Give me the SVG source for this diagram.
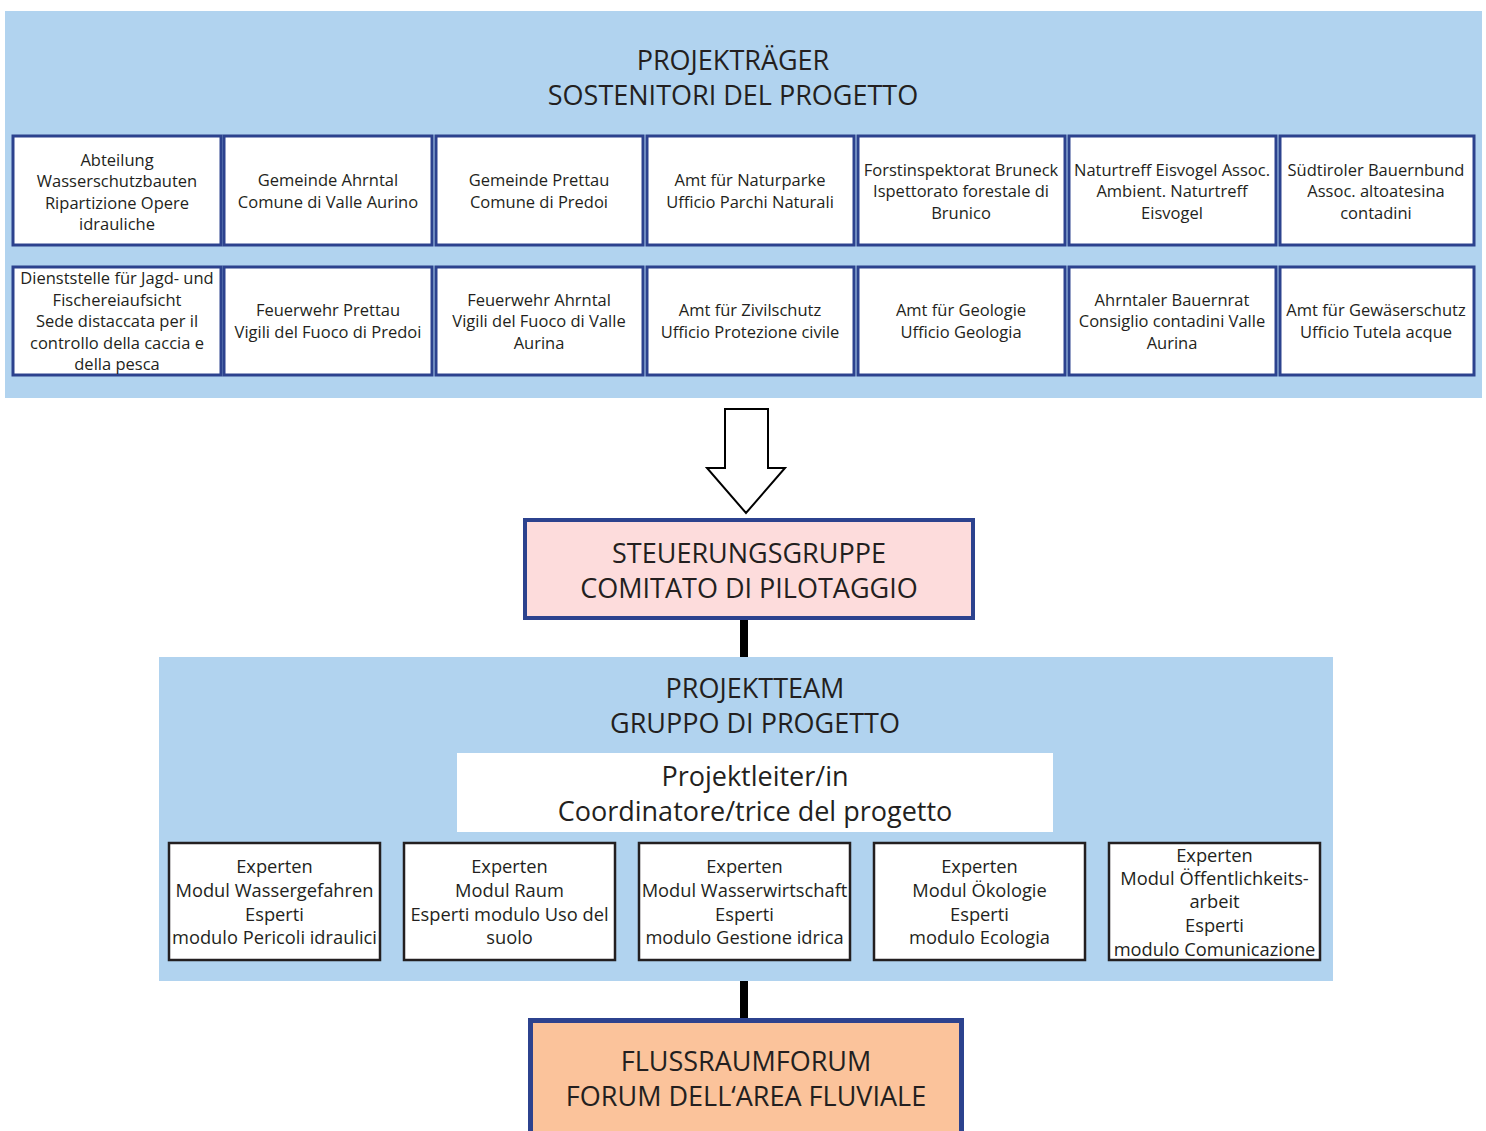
<svg xmlns="http://www.w3.org/2000/svg" width="1486" height="1131" viewBox="0 0 1486 1131">
<style>
text{font-family:"Open Sans","Noto Sans","Liberation Sans",sans-serif;fill:#231f20;text-anchor:middle}
.panel{fill:#b1d3ef}
.org{fill:#fff;stroke:#2c428e;stroke-width:3}
.org-t{font-size:16.5px}
.big{font-size:27px}
.exp{fill:#fff;stroke:#231f20;stroke-width:2.5}
.exp-t{font-size:18.3px}
.conn{fill:#000}
</style>
<rect width="1486" height="1131" fill="#fff"/>

<g id="sostenitori">
<rect class="panel" x="5" y="11" width="1477" height="387"/>
<text class="big" x="733" y="70">PROJEKTRÄGER</text>
<text class="big" x="733" y="105">SOSTENITORI DEL PROGETTO</text>
</g>

<g id="org-1"><rect class="org" x="13" y="136" width="208" height="109"/>
<text class="org-t" x="117"><tspan x="117" y="166">Abteilung</tspan><tspan x="117" y="187">Wasserschutzbauten</tspan><tspan x="117" y="209">Ripartizione Opere</tspan><tspan x="117" y="230">idrauliche</tspan></text></g>
<g id="org-2"><rect class="org" x="224" y="136" width="208" height="109"/>
<text class="org-t"><tspan x="328" y="186">Gemeinde Ahrntal</tspan><tspan x="328" y="208">Comune di Valle Aurino</tspan></text></g>
<g id="org-3"><rect class="org" x="436" y="136" width="207" height="109"/>
<text class="org-t"><tspan x="539" y="186">Gemeinde Prettau</tspan><tspan x="539" y="208">Comune di Predoi</tspan></text></g>
<g id="org-4"><rect class="org" x="647" y="136" width="207" height="109"/>
<text class="org-t"><tspan x="750" y="186">Amt für Naturparke</tspan><tspan x="750" y="208">Ufficio Parchi Naturali</tspan></text></g>
<g id="org-5"><rect class="org" x="858" y="136" width="207" height="109"/>
<text class="org-t"><tspan x="961" y="176">Forstinspektorat Bruneck</tspan><tspan x="961" y="197">Ispettorato forestale di</tspan><tspan x="961" y="219">Brunico</tspan></text></g>
<g id="org-6"><rect class="org" x="1069" y="136" width="207" height="109"/>
<text class="org-t"><tspan x="1172" y="176">Naturtreff Eisvogel Assoc.</tspan><tspan x="1172" y="197">Ambient. Naturtreff</tspan><tspan x="1172" y="219">Eisvogel</tspan></text></g>
<g id="org-7"><rect class="org" x="1280" y="136" width="194" height="109"/>
<text class="org-t"><tspan x="1376" y="176">Südtiroler Bauernbund</tspan><tspan x="1376" y="197">Assoc. altoatesina</tspan><tspan x="1376" y="219">contadini</tspan></text></g>

<g id="org-8"><rect class="org" x="13" y="267" width="208" height="108"/>
<text class="org-t"><tspan x="117" y="284">Dienststelle für Jagd- und</tspan><tspan x="117" y="306">Fischereiaufsicht</tspan><tspan x="117" y="327">Sede distaccata per il</tspan><tspan x="117" y="349">controllo della caccia e</tspan><tspan x="117" y="370">della pesca</tspan></text></g>
<g id="org-9"><rect class="org" x="224" y="267" width="208" height="108"/>
<text class="org-t"><tspan x="328" y="316">Feuerwehr Prettau</tspan><tspan x="328" y="338">Vigili del Fuoco di Predoi</tspan></text></g>
<g id="org-10"><rect class="org" x="436" y="267" width="207" height="108"/>
<text class="org-t"><tspan x="539" y="306">Feuerwehr Ahrntal</tspan><tspan x="539" y="327">Vigili del Fuoco di Valle</tspan><tspan x="539" y="349">Aurina</tspan></text></g>
<g id="org-11"><rect class="org" x="647" y="267" width="207" height="108"/>
<text class="org-t"><tspan x="750" y="316">Amt für Zivilschutz</tspan><tspan x="750" y="338">Ufficio Protezione civile</tspan></text></g>
<g id="org-12"><rect class="org" x="858" y="267" width="207" height="108"/>
<text class="org-t"><tspan x="961" y="316">Amt für Geologie</tspan><tspan x="961" y="338">Ufficio Geologia</tspan></text></g>
<g id="org-13"><rect class="org" x="1069" y="267" width="207" height="108"/>
<text class="org-t"><tspan x="1172" y="306">Ahrntaler Bauernrat</tspan><tspan x="1172" y="327">Consiglio contadini Valle</tspan><tspan x="1172" y="349">Aurina</tspan></text></g>
<g id="org-14"><rect class="org" x="1280" y="267" width="194" height="108"/>
<text class="org-t"><tspan x="1376" y="316">Amt für Gewäserschutz</tspan><tspan x="1376" y="338">Ufficio Tutela acque</tspan></text></g>

<g id="connectors">
<polygon points="725,409 768,409 768,468 785,468 746,513 707,468 725,468" fill="#fff" stroke="#000" stroke-width="2" stroke-linejoin="miter"/>
<rect class="conn" x="740" y="619" width="8" height="39"/>
<rect class="conn" x="740" y="980" width="8" height="40"/>
</g>

<g id="steuerungsgruppe">
<rect x="525" y="520" width="448" height="98" fill="#fddcdc" stroke="#2c428e" stroke-width="4"/>
<text class="big"><tspan x="749" y="563">STEUERUNGSGRUPPE</tspan><tspan x="749" y="598">COMITATO DI PILOTAGGIO</tspan></text>
</g>

<g id="projektteam">
<rect class="panel" x="159" y="657" width="1174" height="324"/>
<text class="big"><tspan x="755" y="698">PROJEKTTEAM</tspan><tspan x="755" y="733">GRUPPO DI PROGETTO</tspan></text>
</g>

<g id="projektleiter">
<rect x="457" y="753" width="596" height="79" fill="#fff"/>
<text class="big"><tspan x="755" y="786">Projektleiter/in</tspan><tspan x="755" y="821">Coordinatore/trice del progetto</tspan></text>
</g>

<g id="exp-1"><rect class="exp" x="169" y="843" width="211" height="117"/>
<text class="exp-t"><tspan x="274.5" y="873">Experten</tspan><tspan x="274.5" y="897">Modul Wassergefahren</tspan><tspan x="274.5" y="921">Esperti</tspan><tspan x="274.5" y="944">modulo Pericoli idraulici</tspan></text></g>
<g id="exp-2"><rect class="exp" x="404" y="843" width="211" height="117"/>
<text class="exp-t"><tspan x="509.5" y="873">Experten</tspan><tspan x="509.5" y="897">Modul Raum</tspan><tspan x="509.5" y="921">Esperti modulo Uso del</tspan><tspan x="509.5" y="944">suolo</tspan></text></g>
<g id="exp-3"><rect class="exp" x="639" y="843" width="211" height="117"/>
<text class="exp-t"><tspan x="744.5" y="873">Experten</tspan><tspan x="744.5" y="897">Modul Wasserwirtschaft</tspan><tspan x="744.5" y="921">Esperti</tspan><tspan x="744.5" y="944">modulo Gestione idrica</tspan></text></g>
<g id="exp-4"><rect class="exp" x="874" y="843" width="211" height="117"/>
<text class="exp-t"><tspan x="979.5" y="873">Experten</tspan><tspan x="979.5" y="897">Modul Ökologie</tspan><tspan x="979.5" y="921">Esperti</tspan><tspan x="979.5" y="944">modulo Ecologia</tspan></text></g>
<g id="exp-5"><rect class="exp" x="1109" y="843" width="211" height="117"/>
<text class="exp-t"><tspan x="1214.5" y="862">Experten</tspan><tspan x="1214.5" y="885">Modul Öffentlichkeits-</tspan><tspan x="1214.5" y="908">arbeit</tspan><tspan x="1214.5" y="932">Esperti</tspan><tspan x="1214.5" y="956">modulo Comunicazione</tspan></text></g>

<g id="flussraumforum">
<rect x="530.5" y="1020.5" width="431" height="120" fill="#fbc39b" stroke="#2c428e" stroke-width="5"/>
<text class="big"><tspan x="746" y="1071">FLUSSRAUMFORUM</tspan><tspan x="746" y="1106">FORUM DELL‘AREA FLUVIALE</tspan></text>
</g>
</svg>
